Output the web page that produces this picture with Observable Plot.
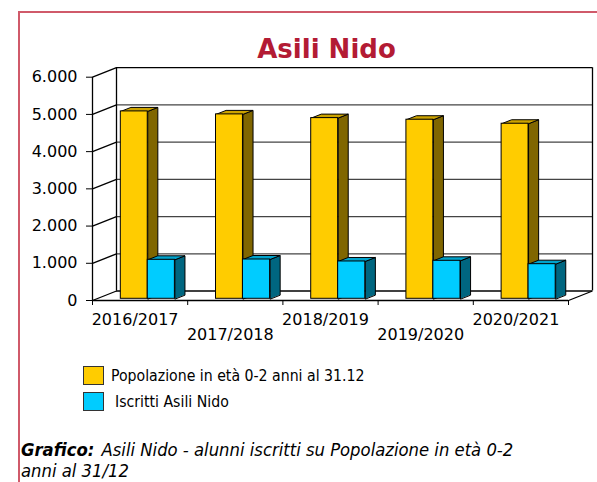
<!DOCTYPE html>
<html><head><meta charset="utf-8">
<script src="https://cdn.jsdelivr.net/npm/d3@7"></script>
<script src="https://cdn.jsdelivr.net/npm/@observablehq/plot@0.6"></script>
<style>
body{margin:0;background:#fff;font-family:"DejaVu Sans",Verdana,sans-serif;color:#000;}
#frame{position:absolute;left:18px;top:11px;width:700px;height:600px;border-left:2px solid #d05a6a;border-top:2px solid #d05a6a;}
#title{position:absolute;left:0;width:653px;top:36px;text-align:center;font:bold 26px/26px "DejaVu Sans",Verdana,sans-serif;color:#b31b34;}
#chart{position:absolute;left:0;top:0;}
.leg{position:absolute;left:83px;font-family:"DejaVu Sans";font-stretch:condensed;font-size:15.7px;line-height:20px;white-space:nowrap;}
.leg span.sw{position:absolute;left:0;top:0;width:19px;height:17px;border:1.3px solid #333;}
.leg span.tx{position:absolute;top:0;}
#caption{position:absolute;left:21px;top:439px;font-family:"DejaVu Sans";font-stretch:condensed;font-style:italic;font-size:18.3px;line-height:21px;white-space:nowrap;}
#caption div{height:21px;}
#caption b{margin-right:2px;}
</style></head>
<body>
<div id="frame"></div>
<div id="title">Asili Nido</div>
<div id="chart"></div>
<div id="legend"></div>
<div id="caption"><div><b>Grafico:</b> <span>Asili Nido - alunni iscritti su Popolazione in età 0-2</span></div><div><span>anni al 31/12</span></div></div>
<script>
// ---- data ----
const years = ["2016/2017","2017/2018","2018/2019","2019/2020","2020/2021"];
const popolazione = [5035, 4955, 4855, 4812, 4704];
const iscritti = [1048, 1056, 1003, 1021, 930];
const yTicks = [0,1000,2000,3000,4000,5000,6000];
const seriesNames = ["Popolazione in età 0-2 anni al 31.12","Iscritti Asili Nido"];
const seriesColors = [
  {front:"#FFCC00", top:"#CCA300", side:"#806600"},
  {front:"#00CCFF", top:"#00A3CC", side:"#006680"}
];

// ---- 3D geometry (in scale units) ----
const n = years.length;
const DX = 24/95.2;            // wall depth along x (band units)
const DY = 255;                // wall depth along y (value units)
const f1 = 0.18, fd = 0.42;    // bar front depth fraction, bar depth fraction
const barStart = [0.252, 0.535], barEnd = [0.535, 0.82];

const values = [popolazione, iscritti];
const bars = [];
values.forEach((vals, s) => vals.forEach((v, i) => {
  const x1 = i + barStart[s] + f1*DX, x2 = i + barEnd[s] + f1*DX;
  const y0 = f1*DY, yt = v + f1*DY;
  bars.push({s, i, v, x1, x2, y0, yt});
}));
function faces(kind){
  const pts = [];
  bars.forEach((b, k) => {
    const bx = fd*DX, by = fd*DY;
    let poly;
    if (kind === "top") poly = [[b.x1,b.yt],[b.x1+bx,b.yt+by],[b.x2+bx,b.yt+by],[b.x2,b.yt]];
    else poly = [[b.x2,b.y0],[b.x2,b.yt],[b.x2+bx,b.yt+by],[b.x2+bx,b.y0+by]];
    poly.forEach(([x,y]) => pts.push({id:k, s:b.s, x, y}));
  });
  return pts;
}
const topPts = faces("top"), sidePts = faces("side");

const itFmt = d3.formatLocale({decimal:",", thousands:".", grouping:[3], currency:["€",""]}).format(",");

const marks = [
  // back wall grid
  Plot.ruleY(yTicks, {y: t => t + DY, x1: DX, x2: n + DX, stroke: t => (t === 0 || t === 6000) ? "#000" : "#444", strokeWidth: 1.3}),
  // left wall diagonals
  Plot.link(yTicks, {x1: 0, y1: t => t, x2: DX, y2: t => t + DY, stroke: "#000", strokeWidth: 1.3}),
  Plot.ruleX([DX], {y1: DY, y2: 6000 + DY, stroke: "#000", strokeWidth: 1.3}),
  Plot.ruleX([n + DX], {y1: DY, y2: 6000 + DY, stroke: "#000", strokeWidth: 1.3}),
  Plot.ruleX([0], {y1: 0, y2: 6000, stroke: "#000", strokeWidth: 1.3}),
  Plot.ruleY([0], {x1: 0, x2: n, stroke: "#000", strokeWidth: 1.3}),
  Plot.link([0], {x1: n, y1: 0, x2: n + DX, y2: DY, stroke: "#000", strokeWidth: 1.3}),
  // axes
  Plot.axisY(yTicks, {tickSize: 6, tickPadding: 9, tickFormat: itFmt, fontSize: 16, stroke: "#000"}),
  Plot.axisX(d3.range(n + 1), {tickSize: 5, tickFormat: () => "", stroke: "#000"}),
  Plot.axisX(d3.range(0, n, 2).map(i => i + 0.5), {tickSize: 0, tickPadding: 13, dx: -5, fontSize: 16, tickFormat: d => years[Math.floor(d)]}),
  Plot.axisX(d3.range(1, n, 2).map(i => i + 0.5), {tickSize: 0, tickPadding: 28, dx: -5, fontSize: 16, tickFormat: d => years[Math.floor(d)]})
];
// bars: for each series: side, top, front
[0,1].forEach(s => {
  marks.push(Plot.line(sidePts.filter(p => p.s === s), {x: "x", y: "y", z: "id", curve: "linear-closed", fill: seriesColors[s].side, stroke: "#000", strokeWidth: 1}));
  marks.push(Plot.line(topPts.filter(p => p.s === s), {x: "x", y: "y", z: "id", curve: "linear-closed", fill: seriesColors[s].top, stroke: "#000", strokeWidth: 1}));
  marks.push(Plot.rect(bars.filter(b => b.s === s), {x1: "x1", x2: "x2", y1: "y0", y2: "yt", fill: seriesColors[s].front, stroke: "#000", strokeWidth: 1}));
});

const chart = Plot.plot({
  width: 597, height: 345,
  marginLeft: 92, marginRight: 29, marginTop: 76.7, marginBottom: 45,
  x: {type: "linear", domain: [0, n], axis: null},
  y: {type: "linear", domain: [0, 6000], axis: null},
  style: {background: "transparent", fontFamily: "DejaVu Sans, Verdana, sans-serif", fontSize: "16px", color: "#000", overflow: "visible"},
  marks
});
document.getElementById("chart").appendChild(chart);

// legend
const legend = document.getElementById("legend");
const legTops = [366, 392], legText = [28, 32];
seriesNames.forEach((name, s) => {
  const d = document.createElement("div");
  d.className = "leg";
  d.style.top = legTops[s] + "px";
  d.innerHTML = `<span class="sw" style="background:${seriesColors[s].front}"></span><span class="tx" style="left:${legText[s]}px">${name}</span>`;
  legend.appendChild(d);
});
</script>
</body></html>
